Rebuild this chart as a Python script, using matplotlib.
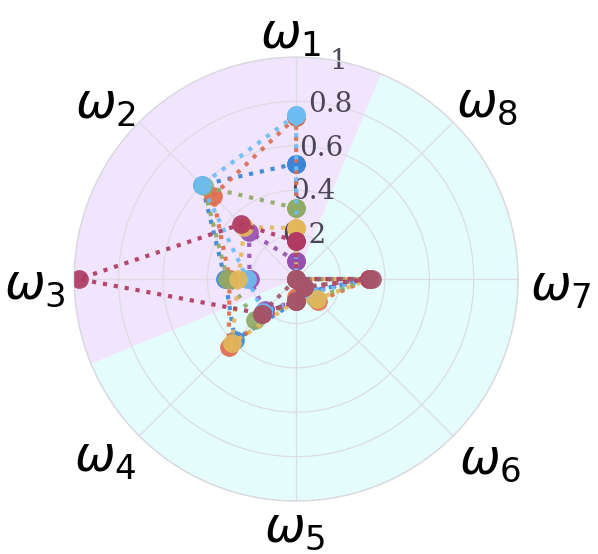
import numpy as np
import matplotlib
matplotlib.use("Agg")
import matplotlib.pyplot as plt

plt.rcParams["mathtext.fontset"] = "dejavusans"

axes_labels = [r"$\omega_1$", r"$\omega_2$", r"$\omega_3$", r"$\omega_4$",
               r"$\omega_5$", r"$\omega_6$", r"$\omega_7$", r"$\omega_8$"]
axis_angles_deg = [90, 135, 180, 225, 270, 315, 0, 45]

r_ticks = [0.2, 0.4, 0.6, 0.8, 1.0]
r_tick_labels = ["0.2", "0.4", "0.6", "0.8", "1"]

# series values for axes w1..w8
blue        = [0.52, 0.60, 0.32, 0.39, 0.10, 0.08, 0.33, 0.0]
red_orange  = [0.73, 0.53, 0.30, 0.43, 0.08, 0.14, 0.33, 0.0]
olive_green = [0.32, 0.59, 0.31, 0.26, 0.10, 0.12, 0.33, 0.0]
purple      = [0.08, 0.30, 0.21, 0.20, 0.10, 0.08, 0.33, 0.0]
light_blue  = [0.74, 0.60, 0.22, 0.21, 0.10, 0.09, 0.33, 0.0]
yellow      = [0.23, 0.33, 0.26, 0.41, 0.10, 0.13, 0.33, 0.0]
crimson     = [0.17, 0.35, 0.98, 0.22, 0.10, 0.05, 0.33, 0.0]
mauve       = [0.0, 0.0, 0.0, 0.22, 0.10, 0.05, 0.34, 0.0]

series = [
    (blue, "#3a86d6"),
    (red_orange, "#e06c4c"),
    (olive_green, "#8fab66"),
    (purple, "#9650b0"),
    (light_blue, "#6dbdf5"),
    (yellow, "#e3b85a"),
    (crimson, "#b03a62"),
    (mauve, "#a5566a"),
]

fig = plt.figure(figsize=(5.98, 5.54), dpi=100)
ax = fig.add_axes([0.124, 0.0956, 0.7425, 0.8014], projection="polar")
ax.set_ylim(0, 1)
ax.set_facecolor("white")

# background sectors
ax.bar([np.deg2rad(135)], [1.0], width=np.deg2rad(135), bottom=0,
       color="#f1e4fd", edgecolor="none", zorder=0.5, align="center")
ax.bar([np.deg2rad(315)], [1.0], width=np.deg2rad(225), bottom=0,
       color="#e5fcfd", edgecolor="none", zorder=0.5, align="center")

ax.set_thetagrids(axis_angles_deg, [""] * 8)
ax.set_rgrids(r_ticks, r_tick_labels, angle=79,
              fontfamily="DejaVu Serif", fontsize=20, color="#4a4658")
for lab in ax.get_yticklabels():
    lab.set_horizontalalignment("center")
    lab.set_verticalalignment("center")
ax.grid(True, color="#dcdce4", linewidth=0.9)
ax.spines["polar"].set_color("#d9d9df")
ax.spines["polar"].set_linewidth(1.0)
ax.tick_params(axis="y", pad=0)

theta = np.deg2rad(axis_angles_deg + [axis_angles_deg[0]])
for vals, col in series:
    v = list(vals) + [vals[0]]
    ax.plot(theta, v, linestyle=":", linewidth=3.0, color=col, zorder=3,
            marker="o", markersize=13.5, markeredgewidth=0, alpha=0.92)

# axis name labels (pixel offsets from centre converted to polar coords)
label_offsets = [(-6, 244), (-191, 174), (-261, -6), (-191, -179),
                 (-1, -249), (194, -181), (265, -8), (191, 176)]
R = 222.0
for lab, (dx, dy) in zip(axes_labels, label_offsets):
    th = np.arctan2(dy, dx)
    rr = np.hypot(dx, dy) / R
    ax.text(th, rr, lab, fontsize=35, ha="center", va="center",
            color="black", clip_on=False)

fig.savefig("out.png", dpi=100)
